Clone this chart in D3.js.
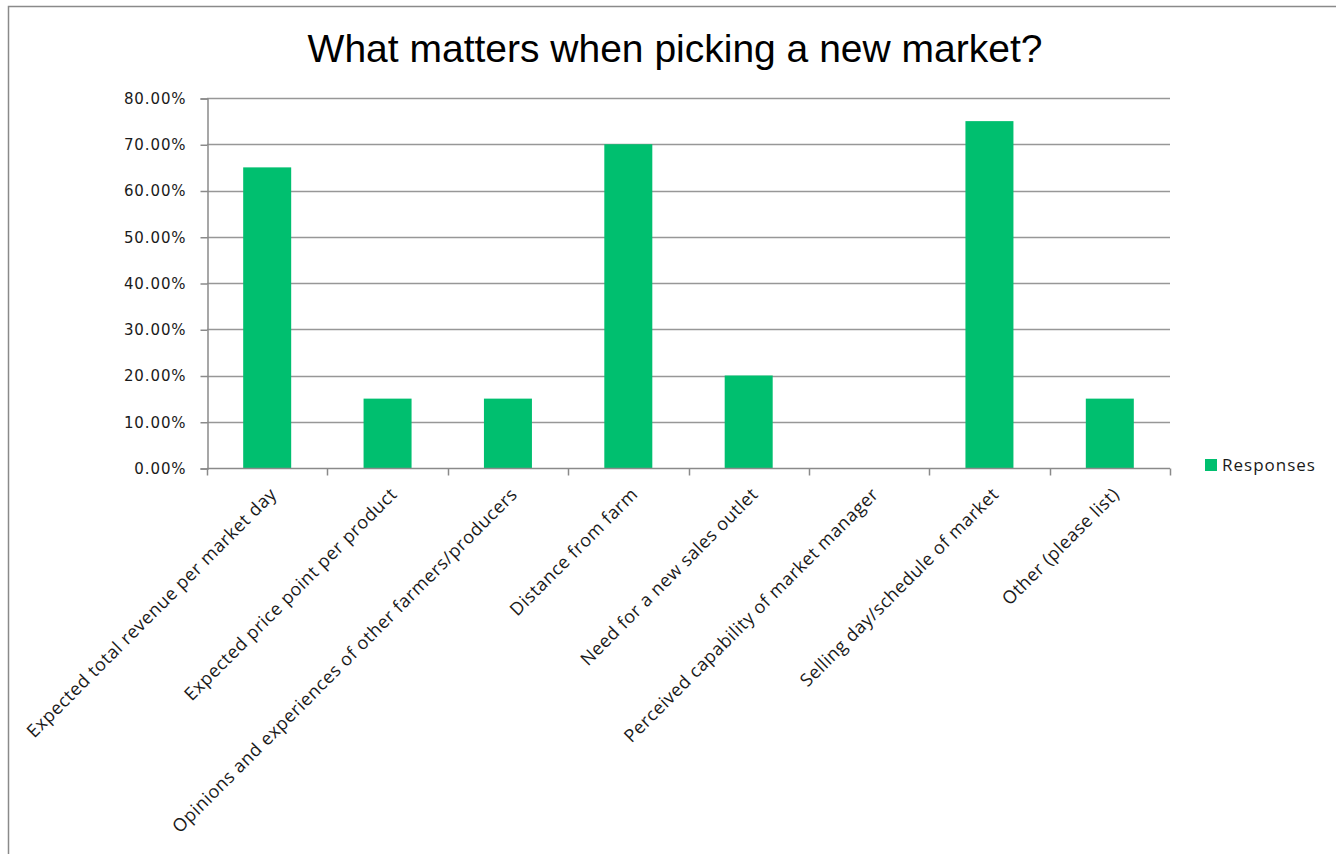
<!DOCTYPE html>
<html>
<head>
<meta charset="utf-8">
<script src="https://cdn.jsdelivr.net/npm/d3@7"></script>
<style>
  html, body { margin: 0; padding: 0; background: #fff; }
  svg { display: block; }
</style>
</head>
<body>
<svg id="chart" width="1336" height="854"></svg>
<script>
// Survey results: share of respondents citing each factor
const categories = [
  "Expected total revenue per market day",
  "Expected price point per product",
  "Opinions and experiences of other farmers/producers",
  "Distance from farm",
  "Need for a new sales outlet",
  "Perceived capability of market manager",
  "Selling day/schedule of market",
  "Other (please list)"
];
const responses = [0.65, 0.15, 0.15, 0.70, 0.20, 0.00, 0.75, 0.15];
const yTicks = [0, 0.1, 0.2, 0.3, 0.4, 0.5, 0.6, 0.7, 0.8];
const seriesName = "Responses";
const chartTitle = "What matters when picking a new market?";

const svg = d3.select("#chart");
const W = 1336, H = 854;
const plot = { left: 207, right: 1170, top: 98, bottom: 468 };
const barColor = "#00bf6f";
const axisColor = "#8a8a8a";

svg.append("rect").attr("width", W).attr("height", H).attr("fill", "#fff");

// outer frame of the chart area
svg.append("rect")
  .attr("x", 8.5).attr("y", 6.5)
  .attr("width", W + 20).attr("height", H + 20)
  .attr("fill", "none").attr("stroke", "#8a8a8a").attr("stroke-width", 1.5);

const x = d3.scaleBand().domain(categories).range([plot.left, plot.right]).paddingInner(0).paddingOuter(0);
const y = d3.scaleLinear().domain([0, 0.8]).range([plot.bottom, plot.top]);

// horizontal gridlines
svg.append("g").selectAll("line").data(yTicks.slice(1)).join("line")
  .attr("x1", plot.left).attr("x2", plot.right)
  .attr("y1", d => Math.round(y(d)) + 0.5).attr("y2", d => Math.round(y(d)) + 0.5)
  .attr("stroke", "#979797").attr("stroke-width", 1.6);

// y axis
const yAxis = d3.axisLeft(y).tickValues(yTicks).tickSize(7).tickPadding(14)
  .tickFormat(d => (d * 100).toFixed(2) + "%");
const gy = svg.append("g").attr("transform", `translate(${plot.left + 0.5},0.5)`).call(yAxis);
gy.select(".domain").attr("stroke", axisColor).attr("stroke-width", 1.5);
gy.selectAll(".tick line").attr("stroke", axisColor).attr("stroke-width", 1.5);
gy.selectAll(".tick text")
  .attr("font-family", "'DejaVu Sans', Verdana, sans-serif")
  .attr("font-size", 15).attr("letter-spacing", "0.9px")
  .attr("fill", "#1a1a1a");

// bars
const barW = 48;
svg.append("g").selectAll("rect").data(responses).join("rect")
  .attr("x", (d, i) => x(categories[i]) + x.bandwidth() / 2 - barW / 2)
  .attr("width", barW)
  .attr("y", d => y(d))
  .attr("height", d => y(0) - y(d))
  .attr("fill", barColor);

// x axis with boundary ticks
const gx = svg.append("g").attr("transform", `translate(0,${plot.bottom + 0.5})`);
gx.append("line").attr("x1", plot.left).attr("x2", plot.right)
  .attr("stroke", axisColor).attr("stroke-width", 1.5);
const bounds = categories.map(c => x(c)).concat([plot.right]);
gx.selectAll("line.tk").data(bounds).join("line").attr("class", "tk")
  .attr("x1", d => Math.round(d) + 0.5).attr("x2", d => Math.round(d) + 0.5)
  .attr("y1", 0).attr("y2", 7)
  .attr("stroke", axisColor).attr("stroke-width", 1.5);

// rotated category labels
svg.append("g").selectAll("text").data(categories).join("text")
  .attr("transform", d => `translate(${x(d) + x.bandwidth() / 2 + 6},${plot.bottom + 23}) rotate(-45)`)
  .attr("text-anchor", "end")
  .attr("dy", "0.35em")
  .attr("font-family", "'Open Sans', sans-serif")
  .attr("font-size", 18).attr("letter-spacing", "0.5px")
  .attr("fill", "#1a1a1a")
  .text(d => d);

// title
svg.append("text")
  .attr("x", 675).attr("y", 62)
  .attr("text-anchor", "middle")
  .attr("font-family", "'Liberation Sans', Arial, sans-serif")
  .attr("font-size", 39)
  .attr("fill", "#000")
  .text(chartTitle);

// legend
const lg = svg.append("g").attr("transform", "translate(1205,459)");
lg.append("rect").attr("width", 12).attr("height", 12).attr("fill", barColor);
lg.append("text").attr("x", 17).attr("y", 6).attr("dy", "0.36em")
  .attr("font-family", "'Open Sans', sans-serif")
  .attr("font-size", 17).attr("letter-spacing", "1px")
  .attr("fill", "#1a1a1a")
  .text(seriesName);
</script>
</body>
</html>
